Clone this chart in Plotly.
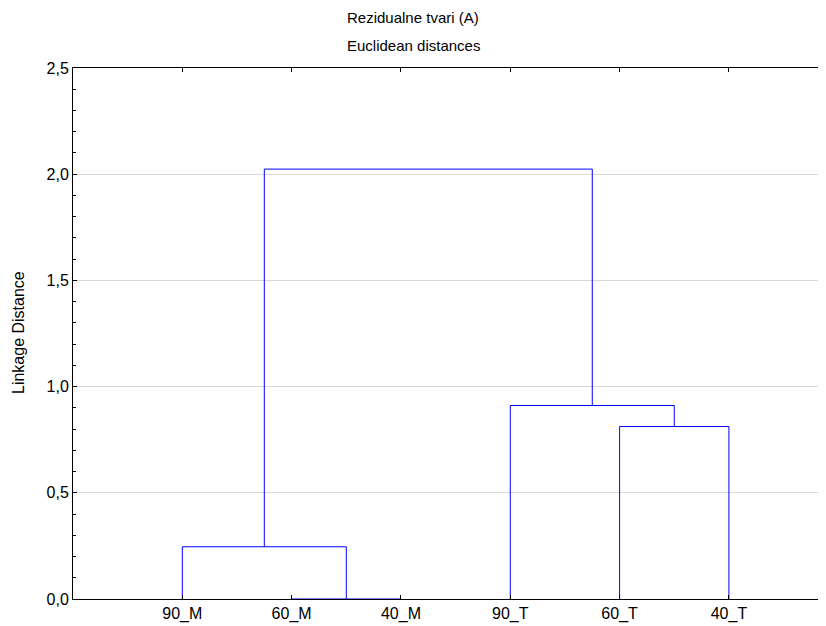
import plotly.graph_objects as go

# ---- data ----
leaf_labels = ["90_M", "60_M", "40_M", "90_T", "60_T", "40_T"]
# merges (scipy-style cluster indices: 0..5 leaves, 6.. new clusters)
merge_a = [1, 0, 4, 3, 7]
merge_b = [2, 6, 5, 8, 9]
merge_height = [0.0, 0.246, 0.812, 0.911, 2.024]
y_ticks = [0.0, 0.5, 1.0, 1.5, 2.0, 2.5]

# ---- build dendrogram segments from the linkage ----
pos_x = [i + 1 for i in range(len(leaf_labels))]
pos_y = [0.0] * len(leaf_labels)
xs, ys = [], []
for a, b, h in zip(merge_a, merge_b, merge_height):
    xa, ya, xb, yb = pos_x[a], pos_y[a], pos_x[b], pos_y[b]
    xs += [xa, xa, xb, xb, None]
    ys += [ya, h, h, yb, None]
    pos_x.append((xa + xb) / 2)
    pos_y.append(h)

FONT = "Liberation Sans, Arial, sans-serif"
OFF = 8  # page body margin

fig = go.Figure()
fig.add_trace(go.Scatter(x=xs, y=ys, mode="lines",
                         line=dict(color="#0000ff", width=1),
                         hoverinfo="skip", showlegend=False))

W, H = 826 - OFF, 626 - OFF
ML, MR, MT = 73 - OFF, 0, 68 - OFF
MB = H - (599 - OFF)
pw = W - ML - MR
ph = H - MT - MB

fig.update_layout(
    width=W, height=H,
    margin=dict(l=ML, r=MR, t=MT, b=MB, pad=0),
    paper_bgcolor="white", plot_bgcolor="white",
    separators=", ",
    font=dict(family=FONT, size=16, color="black"),
    showlegend=False,
    xaxis=dict(
        range=[0, 6.888],
        tickmode="array",
        tickvals=list(range(1, len(leaf_labels) + 1)),
        ticktext=leaf_labels,
        ticks="inside", ticklen=4, tickcolor="black", tickwidth=1,
        showline=True, linecolor="black", linewidth=1,
        mirror="ticks",
        showgrid=False, zeroline=False,
        tickfont=dict(size=16, family=FONT),
    ),
    yaxis=dict(
        range=[0, 2.5],
        tickmode="array",
        tickvals=y_ticks,
        tickformat=".1f",
        ticks="inside", ticklen=4, tickcolor="black", tickwidth=1,
        minor=dict(dtick=0.1, tick0=0, ticks="inside", ticklen=3,
                   tickcolor="black", showgrid=False),
        showline=True, linecolor="black", linewidth=1,
        mirror=False,
        showgrid=True, gridcolor="#d8d8d8", gridwidth=1,
        zeroline=False,
        tickfont=dict(size=16, family=FONT),
    ),
    annotations=[
        dict(text="Rezidualne tvari (A)", xref="paper", yref="paper",
             x=(413 - OFF - ML) / pw, y=1 + (MT - (17 - OFF)) / ph,
             xanchor="center", yanchor="middle", showarrow=False,
             font=dict(size=15, family=FONT)),
        dict(text="Euclidean distances", xref="paper", yref="paper",
             x=(413 - OFF - ML) / pw, y=1 + (MT - (45 - OFF)) / ph,
             xanchor="center", yanchor="middle", showarrow=False,
             font=dict(size=15, family=FONT)),
        dict(text="Linkage Distance", xref="paper", yref="paper",
             x=(18 - OFF - ML) / pw, y=(H - MB - (333 - OFF)) / ph,
             xanchor="center", yanchor="middle", showarrow=False,
             textangle=-90,
             font=dict(size=16, family=FONT)),
    ],
)

fig.write_html("out.html")
